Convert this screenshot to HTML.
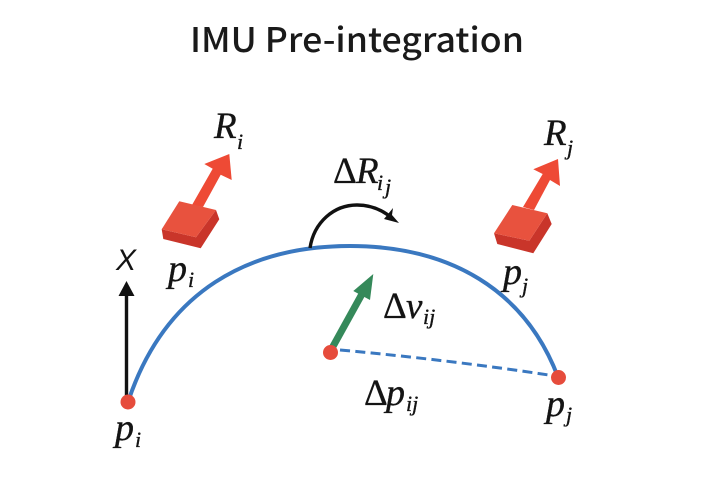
<!DOCTYPE html>
<html><head><meta charset="utf-8"><style>
html,body{margin:0;padding:0;background:#fff}
svg{display:block}
.t{font-family:"Noto Sans CJK SC","Liberation Sans",sans-serif;font-size:34px;font-weight:500;fill:#1a1a1a}
.m{font-family:"Liberation Serif",serif;font-style:italic;fill:#141414;stroke:#141414;stroke-width:.35}
.u{font-family:"Liberation Serif",serif;fill:#141414;stroke:#141414;stroke-width:.25}
.x{font-family:"Liberation Sans",sans-serif;font-style:italic;fill:#141414}
</style></head><body>
<svg width="720" height="480" viewBox="0 0 720 480" xmlns="http://www.w3.org/2000/svg">
<rect width="720" height="480" fill="#fff"/>
<text class="t" x="190" y="52" textLength="334" lengthAdjust="spacingAndGlyphs">IMU Pre-integration</text>

<!-- main curve -->
<path d="M128 402 C165 290 250 246 350 246 C450 246 525 290 558 377" fill="none" stroke="#3a78c0" stroke-width="4"/>
<path d="M340 350 Q450 360 552 375.500" fill="none" stroke="#3a78c0" stroke-width="3" stroke-dasharray="10 5.300"/>

<!-- X arrow -->
<line x1="126.500" y1="400" x2="126.500" y2="292" stroke="#111" stroke-width="3.400"/>
<polygon points="126.500,281 134.500,296 118.500,296" fill="#111"/>

<!-- green arrow -->
<line x1="331" y1="350" x2="362" y2="294" stroke="#35895a" stroke-width="7"/>
<polygon points="373.300,274 370,300 353.300,291" fill="#35895a"/>

<!-- rotation arc -->
<path d="M310 248 C314 222 334 205 357 205 C372 205 384 211 393 219" fill="none" stroke="#111" stroke-width="3.400"/>
<polygon points="399,223 384,219 393,208 392,215" fill="#111"/>

<!-- left cube -->
<polygon points="161.700,229.300 196,237.300 216,210 219.300,219.300 200.700,248.300 163.300,239" fill="#c9352a"/>
<polygon points="192,205 212.700,168.700 204.300,164 229.300,154 231.700,180 220.700,174.700 203,207" fill="#ee4a35"/>
<polygon points="179.300,201.300 216,210 196,237.300 161.700,229.300" fill="#e8523e"/>

<!-- right cube -->
<polygon points="494,233.300 529.300,240.700 547.300,213.300 551.700,224 533.300,253.300 497.300,244" fill="#c9352a"/>
<polygon points="523,207 542.700,174 533.300,169.300 558,159 560,186 550,180 534,210" fill="#ee4a35"/>
<polygon points="512.300,205 547.300,213.300 529.300,240.700 494,233.300" fill="#e8523e"/>

<!-- dots -->
<circle cx="128" cy="402" r="7.500" fill="#e64c3c"/>
<circle cx="330.500" cy="352.500" r="7.500" fill="#e64c3c"/>
<circle cx="558.500" cy="377.500" r="7.500" fill="#e64c3c"/>

<!-- labels -->
<text class="m" x="214" y="138" font-size="37">R</text>
<text class="m" x="237" y="149" font-size="22">i</text>
<text class="m" x="544" y="145" font-size="37">R</text>
<text class="m" x="567" y="155" font-size="22">j</text>
<text class="m" x="168" y="281" font-size="38">p</text>
<text class="m" x="188" y="287" font-size="22">i</text>
<text class="m" x="503" y="284" font-size="38">p</text>
<text class="m" x="522" y="293" font-size="22">j</text>
<text class="x" x="116" y="270" font-size="30">X</text>
<text class="m" x="115" y="440" font-size="38">p</text>
<text class="m" x="135" y="447" font-size="22">i</text>
<text class="m" x="546" y="416" font-size="38">p</text>
<text class="m" x="566" y="422" font-size="22">j</text>
<text class="u" x="333" y="183" font-size="37">Δ</text>
<text class="m" x="356" y="183" font-size="37">R</text>
<text class="m" x="377" y="190" font-size="22">i</text>
<text class="m" x="385" y="194" font-size="22">j</text>
<text class="u" x="383" y="318" font-size="37">Δ</text>
<text class="m" x="406" y="318" font-size="37">v</text>
<text class="m" x="423" y="324" font-size="22">ij</text>
<text class="u" x="364" y="405" font-size="37">Δ</text>
<text class="m" x="386" y="405" font-size="38">p</text>
<text class="m" x="406" y="411" font-size="22">ij</text>
</svg>
</body></html>
